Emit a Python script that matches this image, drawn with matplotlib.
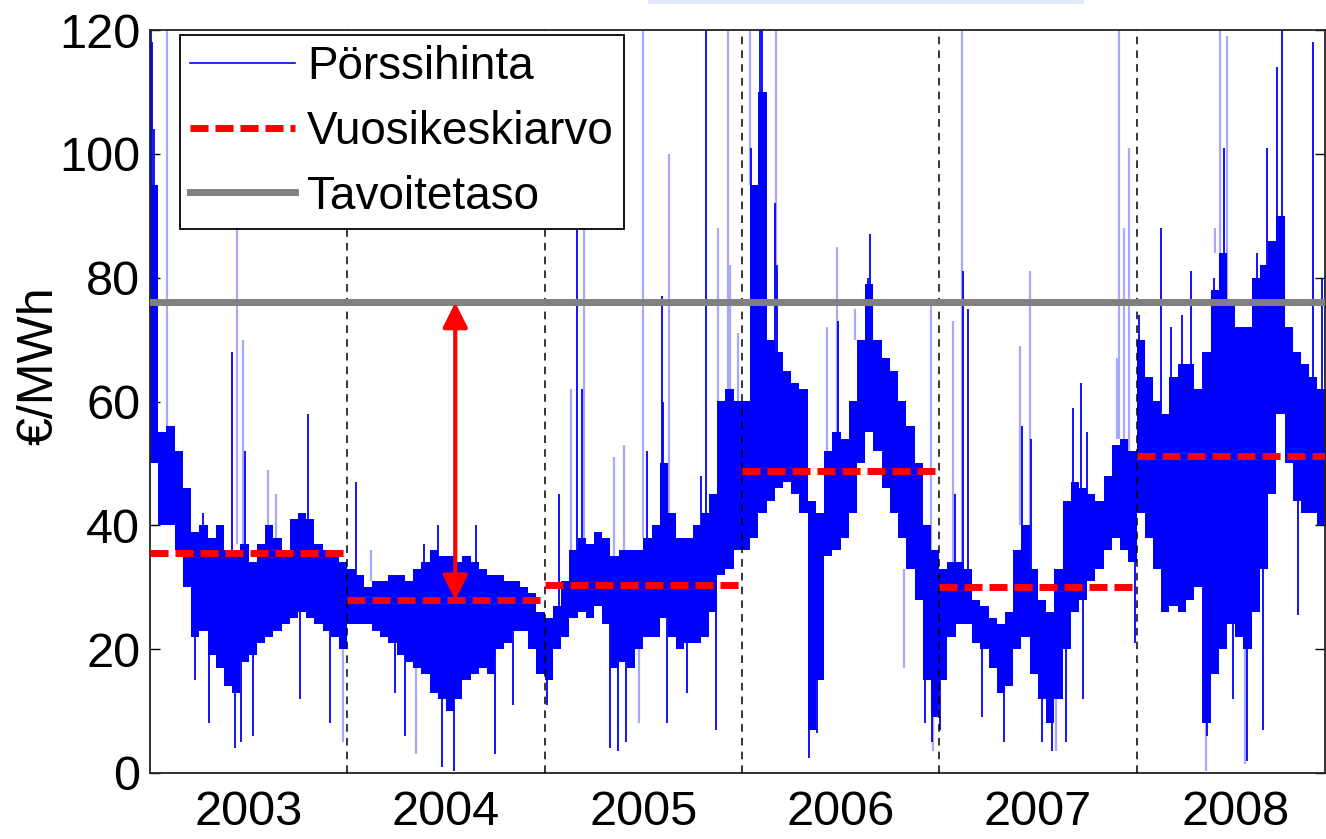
import matplotlib
matplotlib.use('Agg')
import matplotlib.pyplot as plt
from matplotlib.lines import Line2D
from matplotlib.patches import Rectangle
import numpy as np

plt.rcParams['font.family'] = ['Liberation Sans', 'DejaVu Sans']

# yearly averages and target level (EUR/MWh)
years = [2003, 2004, 2005, 2006, 2007, 2008]
year_mean = [35.6, 27.9, 30.4, 48.8, 30.0, 51.2]
target = 76.0

# half-monthly upper / lower edge of the dense hourly price band, Jan 2003 .. Dec 2008
band_hi = [95, 55, 56, 52, 46, 39, 40, 38, 40, 36, 35, 37, 34, 37, 40, 38, 36, 41, 42, 41, 37, 36, 36, 34,
           33, 32, 30, 31, 31, 32, 32, 31, 33, 34, 36, 35, 35, 34, 35, 34, 33, 32, 32, 31, 31, 30, 29, 26,
           25, 27, 31, 36, 38, 37, 39, 38, 35, 36, 36, 36, 38, 40, 50, 42, 38, 38, 40, 42, 45, 60, 62, 60,
           60, 95, 110, 70, 68, 65, 63, 62, 44, 42, 52, 55, 54, 60, 70, 79, 70, 67, 65, 60, 56, 50, 40, 36,
           33, 34, 34, 33, 28, 27, 25, 24, 26, 36, 40, 33, 28, 26, 33, 44, 47, 46, 45, 44, 48, 53, 54, 52,
           70, 64, 60, 58, 64, 66, 66, 62, 68, 78, 84, 76, 72, 72, 80, 82, 86, 90, 72, 68, 66, 64, 62, 60]
band_lo = [50, 40, 40, 36, 30, 22, 23, 19, 17, 14, 13, 18, 19, 21, 22, 23, 24, 25, 26, 25, 24, 23, 22, 20,
           24, 24, 24, 23, 22, 21, 19, 18, 17, 16, 13, 12, 10, 12, 15, 16, 17, 16, 20, 21, 23, 23, 20, 16,
           15, 20, 22, 25, 26, 25, 27, 24, 17, 18, 17, 20, 22, 22, 25, 22, 20, 21, 21, 22, 26, 32, 33, 36,
           36, 38, 42, 44, 46, 47, 45, 42, 7, 15, 35, 36, 38, 42, 50, 55, 52, 46, 42, 38, 33, 28, 15, 9,
           15, 22, 24, 24, 21, 20, 17, 13, 14, 20, 22, 16, 12, 8, 12, 20, 26, 28, 31, 33, 36, 38, 36, 34,
           42, 38, 33, 26, 27, 26, 28, 30, 8, 16, 20, 24, 22, 20, 26, 33, 45, 58, 50, 44, 42, 42, 40, 40]

# single hourly spikes above the band (date as decimal year, price)
spike_dates = [2003.003, 2003.012, 2003.02, 2003.03, 2003.27, 2003.415, 2003.48, 2003.80,
               2004.046, 2004.39, 2004.46, 2004.65,
               2005.075, 2005.165, 2005.19, 2005.52, 2005.595, 2005.60, 2005.79, 2005.82, 2005.95,
               2006.045, 2006.09, 2006.10, 2006.12, 2006.167, 2006.18, 2006.485, 2006.64, 2006.65,
               2007.078, 2007.118, 2007.148, 2007.42, 2007.467, 2007.68, 2007.72, 2007.75,
               2008.01, 2008.123, 2008.173, 2008.232, 2008.274, 2008.392, 2008.442, 2008.61,
               2008.66, 2008.711, 2008.736, 2008.896, 2008.938]
spike_vals = [120, 118, 104, 92, 42, 68, 52, 58,
              47, 37, 40, 40,
              45, 110, 62, 52, 77, 60, 48, 120, 60,
              101, 120, 120, 90, 92, 82, 73, 80, 87,
              45, 81, 75, 56, 54, 59, 63, 55,
              74, 88, 72, 74, 81, 80, 101, 84,
              101, 114, 120, 118, 80]
# fainter spikes (drawn lighter in the original)
faint_dates = [2003.086, 2003.44, 2003.47, 2003.60, 2003.64,
               2004.12,
               2005.134, 2005.20, 2005.35, 2005.40, 2005.50, 2005.63, 2005.88, 2005.93, 2005.94, 2005.98,
               2006.04, 2006.175, 2006.43, 2006.48, 2006.575, 2006.96,
               2007.07, 2007.114, 2007.41, 2007.46, 2007.90, 2007.913, 2007.934, 2007.963,
               2008.40, 2008.425, 2008.459]
faint_vals = [120, 88, 70, 49, 45,
              36,
              62, 90, 51, 53, 120, 100, 88, 120, 82, 71,
              120, 120, 72, 85, 75, 76,
              73, 120, 69, 81, 67, 120, 88, 101,
              88, 120, 119]

# single hourly dips below the band
dip_dates = [2003.23, 2003.30, 2003.43, 2003.46, 2003.52, 2003.76, 2003.91,
             2004.24, 2004.29, 2004.48, 2004.54, 2004.75, 2004.84, 2005.01,
             2005.33, 2005.37, 2005.41, 2005.62, 2005.72, 2005.87,
             2006.34, 2006.38, 2006.93, 2006.965,
             2007.005, 2007.215, 2007.33, 2007.52, 2007.57, 2007.64, 2007.73, 2007.99,
             2008.355, 2008.49, 2008.56, 2008.64, 2008.82]
dip_vals = [15, 8, 4, 5, 6, 12, 8,
            13, 6, 1, 0.3, 3, 11, 11,
            4, 3.5, 5, 8, 13, 7,
            2.4, 6.5, 8, 5,
            7, 9, 5, 5, 3.5, 5, 12, 21,
            6, 12, 2, 7, 25.5]
faint_dip_dates = [2003.98, 2004.35, 2005.48, 2006.82, 2006.97, 2007.59, 2008.35, 2008.55]
faint_dip_vals = [5, 3, 8, 17, 3.6, 3.5, 0.3, 1.5]

BLUE = '#0000ff'
FAINT = '#a8a8ff'
FS = 35
LEG_FS = 33

fig = plt.figure(figsize=(13.26, 8.39), dpi=100)
ax = fig.add_axes([150 / 1326, 1 - 773 / 839, 1175 / 1326, 743 / 839])

# hourly price: dense band (half-month steps) + spikes/dips
mid = 2003 + (np.arange(len(band_hi)) + 0.5) / 24
bx = np.r_[2003.0, mid, 2009.0]
bh = np.r_[band_hi[0], band_hi, band_hi[-1]]
bl = np.r_[band_lo[0], band_lo, band_lo[-1]]
ax.fill_between(bx, bl, bh, step='mid', color=BLUE, lw=0, zorder=2)

# spike base = band edge at that half-month
last = len(bx) - 1
ax.vlines(faint_dates, bh[np.clip(np.searchsorted(bx, faint_dates), 0, last)], faint_vals,
          color=FAINT, lw=1.6, zorder=1.5)
ax.vlines(faint_dip_dates, bl[np.clip(np.searchsorted(bx, faint_dip_dates), 0, last)], faint_dip_vals,
          color=FAINT, lw=1.6, zorder=1.5)
ih = np.clip(np.searchsorted(bx, spike_dates) - 1, 0, last)
ax.vlines(spike_dates, np.minimum(bh[ih], bh[np.clip(ih + 1, 0, last)]), spike_vals,
          color=BLUE, lw=1.3, zorder=2)
idp = np.clip(np.searchsorted(bx, dip_dates) - 1, 0, last)
ax.vlines(dip_dates, np.maximum(bl[idp], bl[np.clip(idp + 1, 0, last)]), dip_vals,
          color=BLUE, lw=1.3, zorder=2)

# year boundaries
for y in years[1:]:
    ax.axvline(y, color='black', lw=1.1, dashes=(5, 4), zorder=3)

# yearly means
for y, m in zip(years, year_mean):
    ax.plot([y, y + 1], [m, m], color='red', lw=5, dashes=(2.6, 1.0),
            solid_capstyle='butt', dash_capstyle='butt', zorder=4)

# target level
ax.axhline(target, color='#808080', lw=5, zorder=4)

# gap arrow in 2004
ax.annotate('', xy=(2004.547, target), xytext=(2004.547, year_mean[1]),
            arrowprops=dict(arrowstyle='<|-|>', color='red', lw=3,
                            mutation_scale=38, shrinkA=0, shrinkB=0), zorder=5)

ax.set_xlim(2003.0, 2008.955)
ax.set_ylim(0, 120)
ax.set_yticks(range(0, 121, 20))
ax.set_xticks([y + 0.5 for y in years])
ax.set_xticklabels([str(y) for y in years])
ax.tick_params(axis='y', direction='in', length=7, width=1, right=True, labelsize=FS, pad=7)
ax.tick_params(axis='x', length=0, labelsize=FS, pad=12)
for s in ax.spines.values():
    s.set_linewidth(1.3)
    s.set_color('#222222')

fig.text(40 / 1326, 1 - 366 / 839, '€/MWh', rotation=90, ha='center', va='center', fontsize=36)

handles = [Line2D([], [], color=BLUE, lw=1.2),
           Line2D([], [], color='red', lw=5, dashes=(2.6, 1.0), dash_capstyle='butt'),
           Line2D([], [], color='#808080', lw=5)]
leg = ax.legend(handles, ['Pörssihinta', 'Vuosikeskiarvo', 'Tavoitetaso'],
                loc='upper left', bbox_to_anchor=(0.0255, 0.993), fontsize=LEG_FS,
                frameon=True, fancybox=False, framealpha=1, edgecolor='black',
                borderaxespad=0, handlelength=2.3, handletextpad=0.25,
                labelspacing=0.45, borderpad=0.22)
leg.get_frame().set_linewidth(1.3)
leg.set_zorder(6)

# faint bar at the top edge of the original image
fig.add_artist(Rectangle((648 / 1326, 1 - 4 / 839), 436 / 1326, 4 / 839,
                         transform=fig.transFigure, color='#e4e9fa', lw=0))

fig.savefig('out.png', dpi=100)
